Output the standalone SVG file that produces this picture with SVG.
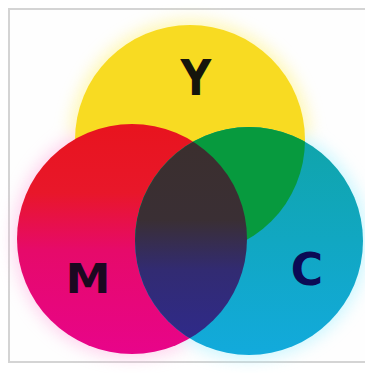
<svg xmlns="http://www.w3.org/2000/svg" width="365" height="373" viewBox="0 0 365 373">
<defs>
<style>
.lbl{font-family:"DejaVu Sans","Liberation Sans",sans-serif;font-weight:bold;text-anchor:middle}
</style>
<clipPath id="cy"><circle cx="190" cy="140" r="115"/></clipPath>
<clipPath id="cm"><circle cx="132" cy="239" r="115"/></clipPath>
<clipPath id="cc"><circle cx="249" cy="241" r="114"/></clipPath>
<filter id="glow" x="-30%" y="-30%" width="160%" height="160%"><feGaussianBlur stdDeviation="8"/></filter>
<linearGradient id="gm" gradientUnits="userSpaceOnUse" x1="0" y1="124" x2="0" y2="354"><stop offset="0" stop-color="#e8141e"/><stop offset="0.3" stop-color="#e8172a"/><stop offset="0.55" stop-color="#e60a6a"/><stop offset="1" stop-color="#e8048a"/></linearGradient>
<linearGradient id="gk" gradientUnits="userSpaceOnUse" x1="0" y1="140" x2="0" y2="340"><stop offset="0" stop-color="#3b2f2e"/><stop offset="0.4" stop-color="#3a2f34"/><stop offset="0.65" stop-color="#322b72"/><stop offset="1" stop-color="#2f2a8a"/></linearGradient>
<linearGradient id="gc" gradientUnits="userSpaceOnUse" x1="0" y1="127" x2="0" y2="355"><stop offset="0" stop-color="#10a4a8"/><stop offset="1" stop-color="#12aadc"/></linearGradient>
</defs>
<rect x="0" y="0" width="365" height="373" fill="#ffffff"/>
<rect x="9" y="9" width="362" height="353" fill="#fefefe" stroke="#d4d4d4" stroke-width="2"/>
<g id="halo" filter="url(#glow)" opacity="0.55">
<circle cx="190" cy="140" r="120" fill="#fff27a"/>
<circle cx="132" cy="239" r="119" fill="#ffb0e0"/>
<circle cx="249" cy="241" r="118" fill="#a0f0ff"/>
</g>
<g id="yellow"><circle cx="190" cy="140" r="115" fill="#f8db22"/></g>
<g id="magenta"><circle cx="132" cy="239" r="115" fill="url(#gm)"/></g>
<g id="cyan"><circle cx="249" cy="241" r="114" fill="url(#gc)"/></g>
<g id="green" clip-path="url(#cy)"><circle cx="249" cy="241" r="114" fill="#079a3e"/></g>
<g id="center" clip-path="url(#cm)"><circle cx="249" cy="241" r="114" fill="url(#gk)"/></g>
<g id="labels">
<text class="lbl" x="196" y="95" font-size="50" fill="#15150c" transform="translate(196 95) scale(0.85 1) translate(-196 -95)">Y</text>
<text class="lbl" x="88" y="293" font-size="41" fill="#1c0820" transform="translate(88 293) scale(1.1 1) translate(-88 -293)">M</text>
<text class="lbl" x="307" y="285" font-size="44" fill="#0b0a55">C</text>
</g>
</svg>
